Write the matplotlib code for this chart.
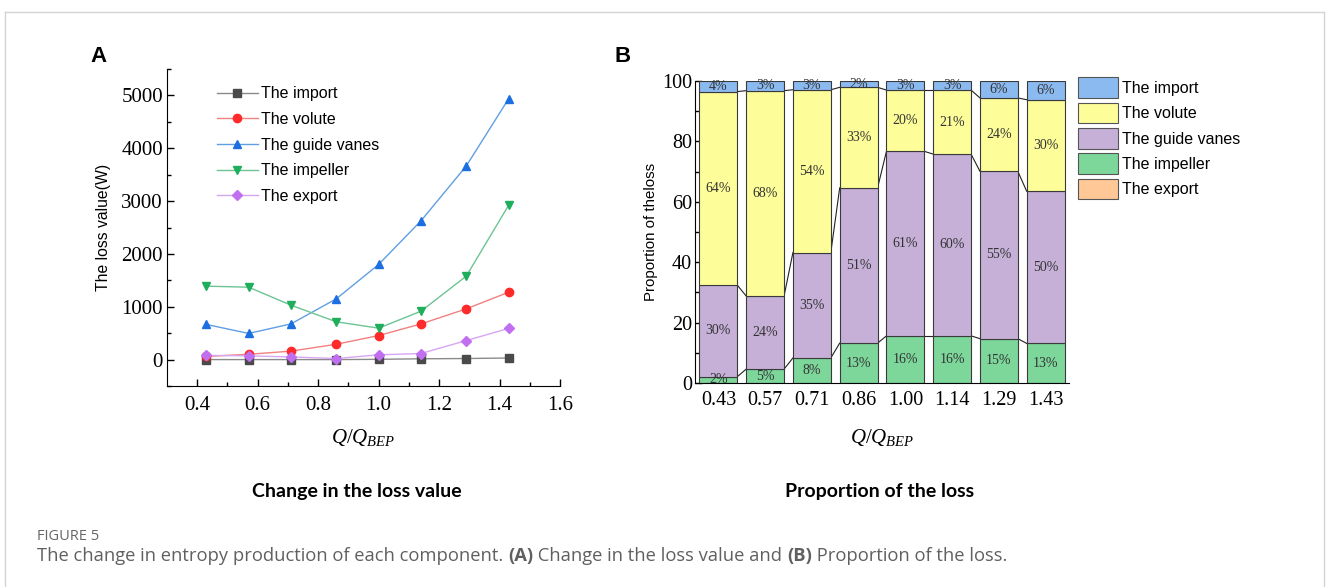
import numpy as np
import matplotlib
matplotlib.use('Agg')
import matplotlib.pyplot as plt
from matplotlib.lines import Line2D
from matplotlib.patches import Patch

plt.rcParams['mathtext.fontset'] = 'custom'
plt.rcParams['mathtext.rm'] = 'Liberation Serif'
plt.rcParams['mathtext.it'] = 'Liberation Serif:italic'

# ---- data (A) loss value
q = [0.43, 0.57, 0.71, 0.86, 1.00, 1.14, 1.29, 1.43]
loss_import = [0, 0, 0, 0, 5, 15, 20, 30]
loss_volute = [60, 100, 160, 290, 455, 675, 960, 1275]
loss_guide = [665, 495, 675, 1150, 1800, 2625, 3665, 4935]
loss_impeller = [1390, 1370, 1030, 715, 595, 915, 1580, 2920]
loss_export = [80, 70, 50, 20, 90, 115, 360, 590]

# ---- data (B) proportion of loss (%)
q_labels = ['0.43', '0.57', '0.71', '0.86', '1.00', '1.14', '1.29', '1.43']
pct_export = [0, 0, 0, 0, 0, 0, 0, 0]
pct_impeller = [2.1, 4.6, 8.3, 13.2, 15.6, 15.6, 14.7, 13.1]
pct_guide = [30.3, 24.2, 34.9, 51.4, 61.1, 60.2, 55.4, 50.4]
pct_volute = [64.1, 68.0, 53.9, 33.3, 20.3, 21.2, 24.3, 30.3]
pct_import = [3.5, 3.2, 2.9, 2.1, 3.0, 3.0, 5.6, 6.2]

W, H = 1328, 587
fig = plt.figure(figsize=(W / 100, H / 100), dpi=100)

serif = 'Liberation Serif'
sans = 'Liberation Sans'

# ================= panel A
axA = fig.add_axes([167 / W, 1 - 386 / H, 393 / W, 317 / H])
series = [
    ('The import', loss_import, 's', '#4a4a4a', '#8a8a8a'),
    ('The volute', loss_volute, 'o', '#ff2b2b', '#f28080'),
    ('The guide vanes', loss_guide, '^', '#1b6fe0', '#5f9fe2'),
    ('The impeller', loss_impeller, 'v', '#1fae5c', '#6cc493'),
    ('The export', loss_export, 'D', '#c06ff0', '#d6a6f2'),
]
for name, vals, mk, mc, lc in series:
    axA.plot(q, vals, color=lc, lw=1.0, marker=mk, ms=6 if mk != 'D' else 5,
             mfc=mc, mec=mc, label=name)

axA.set_xlim(0.3, 1.6)
axA.set_ylim(-500, 5500)
axA.set_xticks(np.arange(0.4, 1.61, 0.2))
axA.set_xticks(np.arange(0.5, 1.6, 0.2), minor=True)
axA.set_yticks(np.arange(0, 5001, 1000))
axA.set_yticks(np.arange(-500, 5501, 1000), minor=True)
axA.set_xticklabels(['0.4', '0.6', '0.8', '1.0', '1.2', '1.4', '1.6'])
for s in ['top', 'right']:
    axA.spines[s].set_visible(False)
axA.tick_params(which='both', direction='in', width=1)
axA.tick_params(which='major', length=5)
axA.tick_params(which='minor', length=3)
axA.tick_params(axis='x', pad=7)
axA.tick_params(axis='y', pad=3)
for lab in axA.get_xticklabels() + axA.get_yticklabels():
    lab.set_fontfamily(serif)
    lab.set_fontsize(15)
axA.set_ylabel('The loss value(W)', fontfamily=sans, fontsize=11.3, labelpad=7)
axA.set_xlabel(r'$Q/Q_{BEP}$', fontsize=15, labelpad=9)
axA.legend(loc='upper left', bbox_to_anchor=(0.11, 0.965), frameon=False,
           prop={'family': sans, 'size': 11.5}, handlelength=2.6,
           handletextpad=0.2, labelspacing=0.66, borderaxespad=0)

# ================= panel B
axB = fig.add_axes([695 / W, 1 - 383 / H, 374 / W, 302 / H])
x = np.arange(len(q_labels))
wbar = 0.81
layers = [
    ('The export', pct_export, '#ffc896'),
    ('The impeller', pct_impeller, '#7dd79b'),
    ('The guide vanes', pct_guide, '#c6b0d8'),
    ('The volute', pct_volute, '#fdfd99'),
    ('The import', pct_import, '#8bbaf0'),
]
bottom = np.zeros(len(x))
tops = []
for name, vals, col in layers:
    vals = np.array(vals, dtype=float)
    if vals.sum() > 0:
        axB.bar(x, vals, wbar, bottom=bottom, color=col, edgecolor='#3a3a3a',
                linewidth=0.8, zorder=2)
        for xi, b, v in zip(x, bottom, vals):
            axB.text(xi, b + v / 2, '%.0f%%' % v, ha='center', va='center',
                     fontfamily=serif, fontsize=10, color='#333333', zorder=3)
    bottom = bottom + vals
    tops.append(bottom.copy())

# connector lines between neighbouring bars
for t in tops[1:-1]:
    for i in range(len(x) - 1):
        axB.plot([x[i] + wbar / 2, x[i + 1] - wbar / 2], [t[i], t[i + 1]],
                 color='#222222', lw=0.8, zorder=1)

axB.set_xlim(-0.5, 7.5)
axB.set_ylim(0, 100)
axB.set_xticks(x)
axB.set_xticklabels(q_labels)
axB.set_yticks(np.arange(0, 101, 20))
axB.set_yticks(np.arange(10, 100, 20), minor=True)
for s in ['top', 'right']:
    axB.spines[s].set_visible(False)
axB.tick_params(which='both', direction='in', width=1)
axB.tick_params(which='major', length=5)
axB.tick_params(which='minor', length=3)
axB.tick_params(axis='x', pad=6)
axB.tick_params(axis='y', pad=2)
for lab in axB.get_xticklabels() + axB.get_yticklabels():
    lab.set_fontfamily(serif)
    lab.set_fontsize(14.5)
axB.set_ylabel('Proportion of theloss', fontfamily=sans, fontsize=10.8, labelpad=3)
axB.set_xlabel(r'$Q/Q_{BEP}$', fontsize=15, labelpad=12)

handles = [Patch(facecolor=c, edgecolor='#555555', lw=0.8) for _, _, c in layers[::-1]]
names = [n for n, _, _ in layers[::-1]]
fig.legend(handles, names, loc='upper left', bbox_to_anchor=(1072 / W, 1 - 71 / H),
           frameon=False, prop={'family': sans, 'size': 11.5}, handlelength=2.5,
           handleheight=1.6, handletextpad=0.2, labelspacing=0.3, borderaxespad=0)

# panel letters and captions
fig.text(90 / W, 1 - 56 / H, 'A', fontfamily=sans, fontweight='bold', fontsize=16, va='center')
fig.text(614 / W, 1 - 56 / H, 'B', fontfamily=sans, fontweight='bold', fontsize=16, va='center')
fig.text(357 / W, 1 - 491 / H, 'Change in the loss value', fontfamily='Lato',
         fontweight='bold', fontsize=14, ha='center', va='center')
fig.text(880 / W, 1 - 491 / H, 'Proportion of the loss', fontfamily='Lato',
         fontweight='bold', fontsize=14, ha='center', va='center')
fig.text(37 / W, 1 - 537 / H, 'FIGURE 5', fontfamily='Open Sans', fontsize=10.5,
         color='#666666', va='center')

# caption with bold panel references
parts = [('The change in entropy production of each component. ', 'normal'),
         ('(A)', 'bold'), (' Change in the loss value and ', 'normal'),
         ('(B)', 'bold'), (' Proportion of the loss.', 'normal')]
renderer = fig.canvas.get_renderer()
xpos = 37
for txt, wt in parts:
    t = fig.text(xpos / W, 1 - 556 / H, txt, fontfamily='Open Sans', fontweight=wt,
                 fontsize=13.2, color='#606060', va='center')
    bb = t.get_window_extent(renderer)
    xpos += bb.width

# light frame around the figure
bc = '#d4d4d4'
fig.add_artist(Line2D([4.5 / W, 4.5 / W], [0, 1 - 12 / H], color=bc, lw=1))
fig.add_artist(Line2D([4.5 / W, 1324 / W], [1 - 12 / H, 1 - 12 / H], color=bc, lw=1))
fig.add_artist(Line2D([1324 / W, 1324 / W], [0, 1 - 12 / H], color=bc, lw=1))

fig.savefig('out.png', dpi=100)
